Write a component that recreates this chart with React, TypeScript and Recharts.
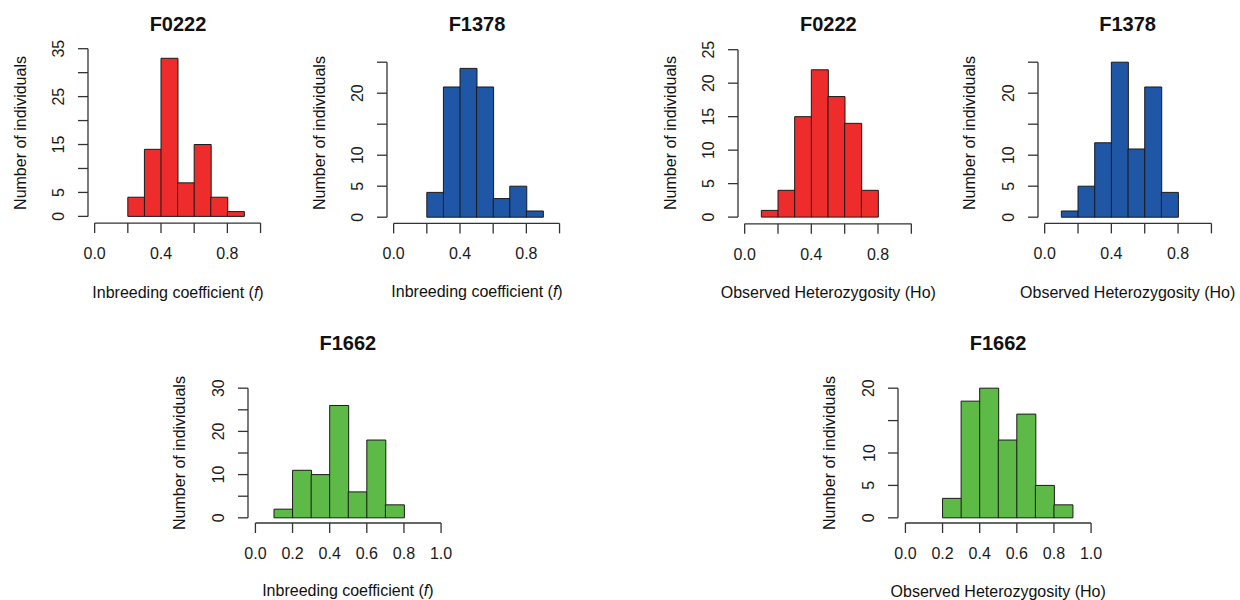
import { Bar, BarChart, ReferenceLine, XAxis, YAxis } from "recharts"

// histogram bins, 0.1 wide, from 0.0 to 1.0
const binMids = [0.05, 0.15, 0.25, 0.35, 0.45, 0.55, 0.65, 0.75, 0.85, 0.95]

// counts per bin (number of individuals)
const fF0222 = [0, 0, 4, 14, 33, 7, 15, 4, 1, 0]
const fF1378 = [0, 0, 4, 21, 24, 21, 3, 5, 1, 0]
const hoF0222 = [0, 1, 4, 15, 22, 18, 14, 4, 0, 0]
const hoF1378 = [0, 1, 5, 12, 25, 11, 21, 4, 0, 0]
const fF1662 = [0, 2, 11, 10, 26, 6, 18, 3, 0, 0]
const hoF1662 = [0, 0, 3, 18, 20, 12, 16, 5, 2, 0]

const xTicks = [0, 0.2, 0.4, 0.6, 0.8, 1]
const xLabelsTop = [0, 0.4, 0.8]
const xLabelsBottom = [0, 0.2, 0.4, 0.6, 0.8, 1]

const yTicks35 = [0, 5, 10, 15, 20, 25, 30, 35]
const yTicks30 = [0, 5, 10, 15, 20, 25, 30]
const yTicks25 = [0, 5, 10, 15, 20, 25]
const yTicks20 = [0, 5, 10, 15, 20]

const RED = "#EE2C2C"
const BLUE = "#1F56A6"
const GREEN = "#5DBA47"
const AXIS = "#333"
const EDGE = "#1a1a1a"
const FONT = "'Liberation Sans', Arial, sans-serif"

const F_LABEL = "Inbreeding coefficient"
const HO_LABEL = "Observed Heterozygosity (Ho)"
const Y_LABEL = "Number of individuals"

type PanelDef = {
  title: string
  counts: number[]
  color: string
  ymax: number
  yTicks: number[]
  yLabels: number[]
  xLabels: number[]
  xTitle: string
  italicF: boolean
  left: number
  right: number
  top: number
  bottom: number
  titleY: number
  xTitleY: number
  yTitleY: number
}

const panels: PanelDef[] = [
  { title: "F0222", counts: fF0222, color: RED, ymax: 35, yTicks: yTicks35, yLabels: [0, 5, 15, 25, 35], xLabels: xLabelsTop, xTitle: F_LABEL, italicF: true, left: 88.4, right: 267.6, top: 42.3, bottom: 223.4, titleY: 31, xTitleY: 297.5, yTitleY: 133 },
  { title: "F1378", counts: fF1378, color: BLUE, ymax: 25, yTicks: yTicks25, yLabels: [0, 5, 10, 20], xLabels: xLabelsTop, xTitle: F_LABEL, italicF: true, left: 387.4, right: 566.6, top: 55.5, bottom: 222.9, titleY: 31, xTitleY: 297, yTitleY: 133 },
  { title: "F0222", counts: hoF0222, color: RED, ymax: 25, yTicks: yTicks25, yLabels: yTicks25, xLabels: xLabelsTop, xTitle: HO_LABEL, italicF: false, left: 738.3, right: 918.3, top: 42.6, bottom: 223.4, titleY: 31, xTitleY: 297.5, yTitleY: 133 },
  { title: "F1378", counts: hoF1378, color: BLUE, ymax: 25, yTicks: yTicks25, yLabels: [0, 5, 10, 20], xLabels: xLabelsTop, xTitle: HO_LABEL, italicF: false, left: 1037.6, right: 1217.7, top: 55.5, bottom: 222.9, titleY: 31, xTitleY: 297.5, yTitleY: 133 },
  { title: "F1662", counts: fF1662, color: GREEN, ymax: 30, yTicks: yTicks30, yLabels: [0, 10, 20, 30], xLabels: xLabelsBottom, xTitle: F_LABEL, italicF: true, left: 247.6, right: 448.1, top: 382.5, bottom: 522.5, titleY: 350, xTitleY: 595.5, yTitleY: 453 },
  { title: "F1662", counts: hoF1662, color: GREEN, ymax: 20, yTicks: yTicks20, yLabels: [0, 5, 10, 20], xLabels: xLabelsBottom, xTitle: HO_LABEL, italicF: false, left: 897.9, right: 1098.4, top: 382.5, bottom: 522.5, titleY: 350, xTitleY: 597, yTitleY: 453 },
]

// space around the plot area: axis width/height + extra margin
const YW = 40
const XH = 42
const ML = 80
const MR = 12
const MT = 12
const MB = 50
const TICK = 10

function XTick(props: any) {
  const { x, y, payload, labels } = props
  if (!labels.includes(payload.value)) return <g />
  return (
    <text x={x} y={y + 26} textAnchor="middle" fontSize={16} fill="#1a1a1a" fontFamily={FONT}>
      {Number(payload.value).toFixed(1)}
    </text>
  )
}

function YTick(props: any) {
  const { x, y, payload, labels } = props
  if (!labels.includes(payload.value)) return <g />
  const bx = x - 13.5
  return (
    <text x={bx} y={y} transform={`rotate(-90 ${bx} ${y})`} textAnchor="middle" fontSize={16} fill="#1a1a1a" fontFamily={FONT}>
      {payload.value}
    </text>
  )
}

function Panel({ p }: { p: PanelDef }) {
  const w = p.right - p.left
  const h = p.bottom - p.top
  const data = binMids.map((mid, i) => ({ mid, count: p.counts[i] }))
  const yLo = -0.04 * p.ymax
  return (
    <div style={{ position: "absolute", left: p.left - ML, top: p.top - MT }}>
      <BarChart
        width={w + ML + MR}
        height={h + MT + MB}
        data={data}
        margin={{ left: ML - YW, right: MR, top: MT, bottom: MB - XH }}
        barCategoryGap={0}
        barGap={0}
      >
        <XAxis
          dataKey="mid"
          type="number"
          domain={[-0.04, 1.04]}
          allowDataOverflow
          ticks={xTicks}
          interval={0}
          height={XH}
          tickSize={TICK}
          tickMargin={0}
          axisLine={false}
          tickLine={{ stroke: AXIS, strokeWidth: 1.3 }}
          tick={(props: any) => <XTick {...props} labels={p.xLabels} />}
        />
        <YAxis
          type="number"
          domain={[yLo, 1.04 * p.ymax]}
          allowDataOverflow
          ticks={p.yTicks}
          interval={0}
          width={YW}
          tickSize={TICK}
          tickMargin={0}
          axisLine={false}
          tickLine={{ stroke: AXIS, strokeWidth: 1.3 }}
          tick={(props: any) => <YTick {...props} labels={p.yLabels} />}
        />
        <Bar dataKey="count" fill={p.color} stroke={EDGE} strokeWidth={1} isAnimationActive={false} />
        <ReferenceLine
          segment={[{ x: -0.04, y: 0 }, { x: -0.04, y: p.ymax }]}
          stroke={AXIS}
          strokeWidth={1.3}
          ifOverflow="visible"
        />
        <ReferenceLine
          segment={[{ x: 0, y: yLo }, { x: 1, y: yLo }]}
          stroke={AXIS}
          strokeWidth={1.3}
          ifOverflow="visible"
        />
      </BarChart>
    </div>
  )
}

export default function App() {
  return (
    <div style={{ position: "absolute", left: 0, top: 0, width: 1240, height: 600, background: "#fff", fontFamily: FONT }}>
      {panels.map((p, i) => (
        <Panel key={i} p={p} />
      ))}
      <svg width={1240} height={600} style={{ position: "absolute", left: 0, top: 0, pointerEvents: "none" }}>
        {panels.map((p, i) => {
          const cx = (p.left + p.right) / 2
          const yx = p.left - 62.7
          return (
            <g key={i} fontFamily={FONT} fill="#111">
              <text x={cx} y={p.titleY} textAnchor="middle" fontSize={20} fontWeight="bold">
                {p.title}
              </text>
              <text x={cx} y={p.xTitleY} textAnchor="middle" fontSize={16}>
                {p.italicF ? (
                  <>
                    {p.xTitle} (<tspan fontStyle="italic">f</tspan>)
                  </>
                ) : (
                  p.xTitle
                )}
              </text>
              <text
                x={yx}
                y={p.yTitleY}
                transform={`rotate(-90 ${yx} ${p.yTitleY})`}
                textAnchor="middle"
                fontSize={16}
              >
                {Y_LABEL}
              </text>
            </g>
          )
        })}
      </svg>
    </div>
  )
}
